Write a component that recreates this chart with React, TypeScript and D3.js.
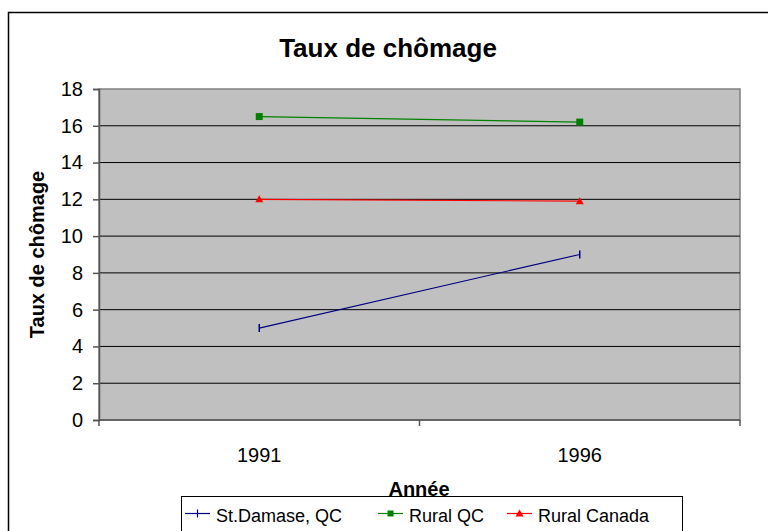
import React, { useEffect, useRef } from "react";
import * as d3 from "d3";

const years = ["1991", "1996"];
const yTicks = [0, 2, 4, 6, 8, 10, 12, 14, 16, 18];
const stDamase = [5, 9];
const ruralQC = [16.5, 16.2];
const ruralCanada = [12, 11.9];

const series = [
  { name: "St.Damase, QC", values: stDamase, color: "#000080", marker: "dash" },
  { name: "Rural QC", values: ruralQC, color: "#008000", marker: "square" },
  { name: "Rural Canada", values: ruralCanada, color: "#FF0000", marker: "triangle" },
];

const App = () => {
  const svgRef = useRef<SVGSVGElement>(null);

  useEffect(() => {
    const svg = d3.select(svgRef.current);
    svg.selectAll("*").remove();
    const font = "'Liberation Sans', Arial, sans-serif";

    const left = 99, right = 740, top = 89, bottom = 420;

    // outer chart frame
    svg.append("rect")
      .attr("x", 8.5).attr("y", 12.5).attr("width", 780).attr("height", 530)
      .attr("fill", "#fff").attr("stroke", "#000").attr("stroke-width", 1.5);

    const x = d3.scaleBand().domain(years).range([left, right]);
    const y = d3.scaleLinear().domain([0, 18]).range([bottom, top]);

    svg.append("rect")
      .attr("x", left).attr("y", top).attr("width", right - left).attr("height", bottom - top)
      .attr("fill", "#C0C0C0").attr("stroke", "#808080").attr("stroke-width", 1.5);

    // gridlines
    svg.append("g").selectAll("line").data(yTicks.filter((d) => d > 0 && d < 18)).enter()
      .append("line")
      .attr("x1", left).attr("x2", right)
      .attr("y1", (d) => y(d)).attr("y2", (d) => y(d))
      .attr("stroke", "#000").attr("stroke-width", 1);

    // y axis
    const yAxis = svg.append("g").attr("transform", `translate(${left},0)`)
      .call(d3.axisLeft(y).tickValues(yTicks).tickSize(6).tickPadding(10));
    yAxis.select(".domain").attr("stroke", "#555").attr("stroke-width", 1.5);
    yAxis.selectAll(".tick line").attr("stroke", "#555").attr("stroke-width", 1.5);
    yAxis.selectAll("text").attr("font-family", font).attr("font-size", 20).attr("fill", "#000");

    // x axis
    const xAxis = svg.append("g").attr("transform", `translate(0,${bottom})`);
    xAxis.append("line").attr("x1", left).attr("x2", right)
      .attr("stroke", "#555").attr("stroke-width", 1.5);
    const edges = [left, ...years.map((d) => (x(d) as number) + x.bandwidth())];
    xAxis.selectAll(".tk").data(edges).enter().append("line")
      .attr("x1", (d) => d).attr("x2", (d) => d).attr("y1", 0).attr("y2", 6)
      .attr("stroke", "#555").attr("stroke-width", 1.5);
    xAxis.selectAll(".lbl").data(years).enter().append("text")
      .attr("x", (d) => (x(d) as number) + x.bandwidth() / 2).attr("y", 42)
      .attr("text-anchor", "middle").attr("font-family", font).attr("font-size", 20)
      .text((d) => d);

    const cx = (i: number) => (x(years[i]) as number) + x.bandwidth() / 2;
    const line = d3.line<number>().x((_, i) => cx(i)).y((d) => y(d));

    series.forEach((s) => {
      svg.append("path").datum(s.values).attr("d", line)
        .attr("fill", "none").attr("stroke", s.color).attr("stroke-width", 1.2);
      const g = svg.append("g");
      s.values.forEach((v, i) => {
        const px = cx(i), py = y(v);
        if (s.marker === "square") {
          g.append("rect").attr("x", px - 3.5).attr("y", py - 3.5).attr("width", 7).attr("height", 7).attr("fill", s.color);
        } else if (s.marker === "triangle") {
          g.append("path").attr("d", `M${px},${py - 4}L${px + 4},${py + 3}L${px - 4},${py + 3}Z`).attr("fill", s.color);
        } else {
          g.append("line").attr("x1", px).attr("x2", px).attr("y1", py - 4).attr("y2", py + 4)
            .attr("stroke", s.color).attr("stroke-width", 1.5);
        }
      });
    });

    // titles
    svg.append("text").attr("x", 388).attr("y", 57).attr("text-anchor", "middle")
      .attr("font-family", font).attr("font-size", 26).attr("font-weight", "bold").text("Taux de chômage");
    svg.append("text").attr("transform", `translate(44,${(top + bottom) / 2}) rotate(-90)`)
      .attr("text-anchor", "middle").attr("font-family", font).attr("font-size", 20)
      .attr("font-weight", "bold").text("Taux de chômage");
    svg.append("text").attr("x", 419).attr("y", 496).attr("text-anchor", "middle")
      .attr("font-family", font).attr("font-size", 20).attr("font-weight", "bold").text("Année");

    // legend
    const lg = svg.append("g");
    lg.append("rect").attr("x", 181.5).attr("y", 496.5).attr("width", 501).attr("height", 40)
      .attr("fill", "#fff").attr("stroke", "#000").attr("stroke-width", 1);
    const starts = [185, 378, 507];
    series.forEach((s, i) => {
      const sx = starts[i], sy = 513.5;
      lg.append("line").attr("x1", sx).attr("x2", sx + 25).attr("y1", sy).attr("y2", sy)
        .attr("stroke", s.color).attr("stroke-width", 1.2);
      const mx = sx + 12.5;
      if (s.marker === "square") {
        lg.append("rect").attr("x", mx - 3).attr("y", sy - 3).attr("width", 6).attr("height", 6).attr("fill", s.color);
      } else if (s.marker === "triangle") {
        lg.append("path").attr("d", `M${mx},${sy - 4}L${mx + 4},${sy + 3}L${mx - 4},${sy + 3}Z`).attr("fill", s.color);
      } else {
        lg.append("line").attr("x1", mx).attr("x2", mx).attr("y1", sy - 4).attr("y2", sy + 4)
          .attr("stroke", s.color).attr("stroke-width", 1.2);
      }
      lg.append("text").attr("x", sx + 31).attr("y", 522).attr("font-family", font)
        .attr("font-size", 18).text(s.name);
    });
  }, []);

  return (
    <svg ref={svgRef} width={768} height={531}
      style={{ position: "absolute", left: 0, top: 0, display: "block" }} />
  );
};

export default App;
